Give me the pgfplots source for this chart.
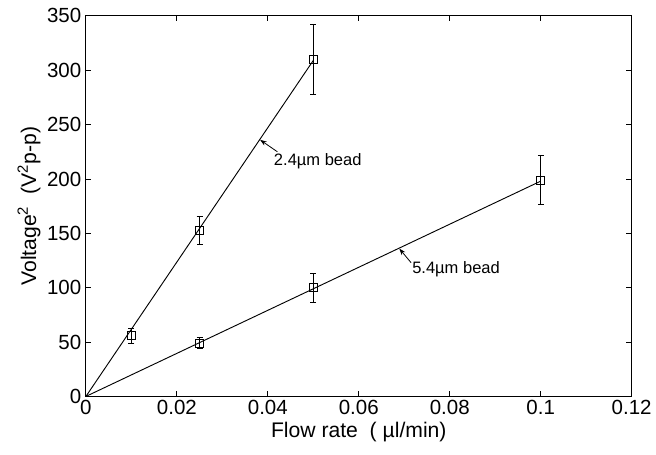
\documentclass[border=0pt]{standalone}
\usepackage{fontspec}
\setmainfont{Liberation Sans}
\usepackage{pgfplots}
\pgfplotsset{compat=1.18}
\usetikzlibrary{arrows.meta,calc}

\begin{document}
\begin{tikzpicture}[x=1pt,y=1pt]
\begin{axis}[
  scale only axis,
  width=413pt, height=288pt,
  xmin=0, xmax=0.12, ymin=0, ymax=350,
  xtick={0,0.02,...,0.12},
  ytick={0,50,...,350},
  scaled x ticks=false,
  xticklabel style={/pgf/number format/fixed,/pgf/number format/precision=2},
  /pgf/number format/assume math mode=true,
  tick label style={font=\fontsize{15.5}{15.5}\selectfont},
  label style={font=\fontsize{16}{16}\selectfont},
  xlabel={Flow rate\ \ ( µl/min)},
  ylabel={Voltage\textsuperscript{2}\ \ (V\textsuperscript{2}p-p)},
  xticklabel style={yshift=1pt},
  xlabel style={yshift=1pt},
  ylabel style={yshift=-2pt},
  major tick length=4pt,
  tick style={black, line width=0.6pt},
  axis line style={line width=0.7pt},
  clip=false,
]
% fitted lines
\addplot[black, line width=0.7pt, no marks] coordinates {(0,0) (0.05,309)};
\addplot[black, line width=0.7pt, no marks] coordinates {(0,0) (0.1,198)};
% 2.4 um bead
\addplot[black, line width=0.6pt, only marks, mark=square, mark size=3pt,
  error bars/.cd, y dir=both, y explicit,
  error bar style={line width=0.6pt},
  error mark options={rotate=90, mark size=2.2pt, black, line width=0.6pt}]
  coordinates {
    (0.01,56) +- (0,7)
    (0.025,153) +- (0,13)
    (0.05,310) +- (0,32)
  };
% 5.4 um bead
\addplot[black, line width=0.6pt, only marks, mark=square, mark size=3pt,
  error bars/.cd, y dir=both, y explicit,
  error bar style={line width=0.6pt},
  error mark options={rotate=90, mark size=2.2pt, black, line width=0.6pt}]
  coordinates {
    (0.025,49) +- (0,5)
    (0.05,100) +- (0,13.5)
    (0.1,199) +- (0,22.5)
  };
\draw[-{Stealth[length=5pt,width=3.5pt]}, line width=0.6pt] (axis cs:0.0421,225) -- (axis cs:0.0383,236);
\node[anchor=west, font=\fontsize{12.5}{12.5}\selectfont, inner sep=0pt] at (axis cs:0.0413,216) {2.4µm bead};
\draw[-{Stealth[length=5pt,width=3.5pt]}, line width=0.6pt] (axis cs:0.0715,123) -- (axis cs:0.0689,136);
\node[anchor=west, font=\fontsize{12.5}{12.5}\selectfont, inner sep=0pt] at (axis cs:0.0717,117) {5.4µm bead};
\end{axis}
\path ($(current axis.south west)+(-65pt,-44pt)$) rectangle ($(current axis.north east)+(13.5pt,12pt)$);
\end{tikzpicture}
\end{document}
